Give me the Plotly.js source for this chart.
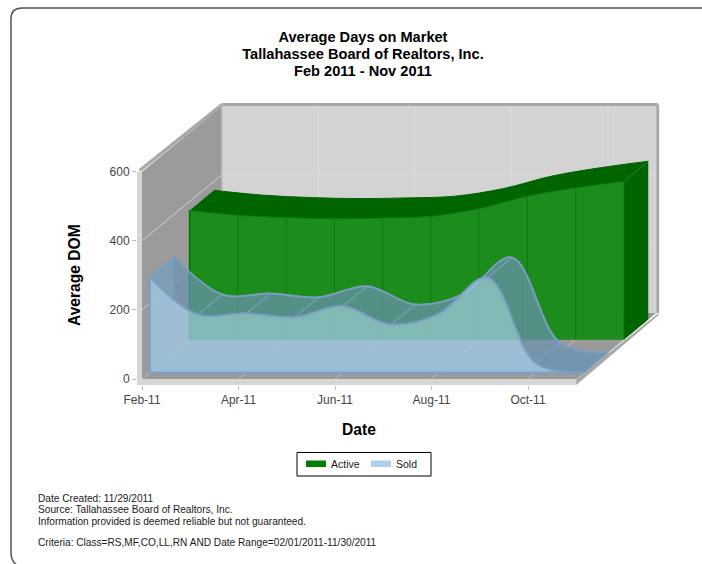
<!DOCTYPE html>
<html>
<head>
<meta charset="utf-8">
<script src="https://cdn.plot.ly/plotly-3.0.1.min.js"></script>
<style>html,body{margin:0;padding:0;background:#fff}#chart{width:702px;height:564px}</style>
</head>
<body>
<div id="chart"></div>
<script>
// ---- data ----
const months = ['Feb-11','Mar-11','Apr-11','May-11','Jun-11','Jul-11','Aug-11','Sep-11','Oct-11','Nov-11'];
const active = [374, 360, 353, 350, 352, 357, 379, 415, 439, 458];
const sold   = [277, 168, 171, 160, 192, 139, 170, 275, 28, 0];
const xTickIdx = [0, 2, 4, 6, 8];
const yTicks = [0, 200, 400, 600];
const seriesNames = ['Active', 'Sold'];

// ---- oblique depth of the 3D box, in axis units ----
const DX = 1.658, DY = 191;
const SOLD_D = [0.095, 0.40], ACTIVE_D = [0.595, 0.90];
const idx = months.map((_, i) => i);
const last = months.length - 1;
const px = (m, d) => m + d * DX, py = (v, d) => v + d * DY;

const traces = [];
function poly(pts, fill) {
  traces.push({type:'scatter', mode:'none', x: pts.map(p => px(p[0], p[2])), y: pts.map(p => py(p[1], p[2])),
    fill:'toself', fillcolor: fill, hoverinfo:'skip', showlegend:false});
}
function seg(a, b, color, w) {
  traces.push({type:'scatter', mode:'lines', x:[px(a[0],a[2]), px(b[0],b[2])], y:[py(a[1],a[2]), py(b[1],b[2])],
    line:{color, width:w}, hoverinfo:'skip', showlegend:false});
}
function series(vals, d, color, w, fill, fillcolor, shape, name) {
  traces.push({type:'scatter', mode:'lines', x: idx.map(i => px(i, d)), y: vals.map(v => py(v, d)), name: name,
    line:{shape: shape || 'spline', smoothing:1, color: color || 'rgba(0,0,0,0)', width: w || 0}, fill: fill || 'none', fillcolor: fillcolor,
    hoverinfo:'skip', showlegend:false});
}
const zeros = months.map(() => 0);

// walls and floor
const TOP = 600, STRIP = 0.104, FLOORS = 17;
poly([[0,0,0],[0,0,1],[0,TOP,1],[0,TOP,0]], '#9b9b9b');
poly([[0,0,1],[last,0,1],[last,TOP,1],[0,TOP,1]], '#d3d3d3');
poly([[0,0,0],[last,0,0],[last,0,1],[0,0,1]], '#9a9a9a');
// wall grid
yTicks.slice(1).forEach(v => seg([0,v,0],[0,v,1],'#cfcfcf',1));
yTicks.slice(1,3).forEach(v => seg([0,v,1],[last,v,1],'#dcdcdc',1));
xTickIdx.forEach(i => { seg([i,0,0],[i,0,1],'#bdbdbd',1); seg([i,0,1],[i,TOP,1],'#dcdcdc',1); });
// frame strips
poly([[-STRIP,-FLOORS,0],[last,-FLOORS,0],[last,0,0],[-STRIP,0,0]], '#d6d6d6');
poly([[-STRIP,-FLOORS,0],[0,-FLOORS,0],[0,TOP,0],[-STRIP,TOP,0]], '#d6d6d6');
poly([[last,-FLOORS,0],[last+0.05,-6,1],[last+0.05,0,1],[last,0,0]], '#a8a8a8');
seg([-STRIP/2,TOP+3,0],[0,TOP+3,1],'#a8a8a8',3);
seg([0,TOP+3,1],[last+0.03,TOP+3,1],'#a8a8a8',3);
seg([last+0.03,TOP+3,1],[last+0.03,0,1],'#a8a8a8',3);
seg([0,TOP+3,1],[0,0,1],'#b4b4b4',1);

// Active: top ribbon, side, front face
const AG = '#006400', AF = '#1c8c1c';
series(active, ACTIVE_D[1], AG, 1);
series(active, ACTIVE_D[0], AG, 1, 'tonexty', AG);
poly([[last,0,ACTIVE_D[0]],[last,0,ACTIVE_D[1]],[last,active[last],ACTIVE_D[1]],[last,active[last],ACTIVE_D[0]]], AG);
series(zeros, ACTIVE_D[0], null, 0, 'none', undefined, 'linear');
series(active, ACTIVE_D[0], '#0d7a0d', 1, 'tonexty', AF, 'spline', seriesNames[0]);
seg([0,0,ACTIVE_D[0]],[0,active[0],ACTIVE_D[0]],'#006e00',1.5);
idx.slice(1).forEach(i => seg([i,0,ACTIVE_D[0]],[i,active[i],ACTIVE_D[0]],'#0f7a0f',1));

// Sold: floor, back, ribbon, sides, front face (all translucent)
const SF = 'rgba(160,198,226,0.72)', SR = 'rgba(100,140,168,0.66)', SL = 'rgba(124,158,194,0.9)';
poly([[0,0,SOLD_D[0]],[last,0,SOLD_D[0]],[last,0,SOLD_D[1]],[0,0,SOLD_D[1]]], 'rgba(135,180,215,0.55)');
series(zeros, SOLD_D[1], null, 0, 'none', undefined, 'linear');
series(sold, SOLD_D[1], 'rgba(124,158,194,0.6)', 1.5, 'tonexty', 'rgba(174,208,234,0.18)');
series(sold, SOLD_D[1], SL, 2);
series(sold, SOLD_D[0], SL, 2, 'tonexty', SR);
poly([[0,0,SOLD_D[0]],[0,0,SOLD_D[1]],[0,sold[0],SOLD_D[1]],[0,sold[0],SOLD_D[0]]], 'rgba(135,175,205,0.45)');
idx.forEach(i => seg([i,sold[i],SOLD_D[0]],[i,sold[i],SOLD_D[1]],'rgba(124,158,194,0.8)',1.5));
series(zeros, SOLD_D[0], null, 0, 'none', undefined, 'linear');
series(sold, SOLD_D[0], SL, 2, 'tonexty', SF, 'spline', seriesNames[1]);
seg([0,0,SOLD_D[0]],[0,sold[0],SOLD_D[0]],SL,2.5);
seg([0,0,SOLD_D[0]],[last,0,SOLD_D[0]],SL,2.5);

// ---- page geometry ----
const W = 702, H = 564, L = 137, R = 665, T = 100, B = 385;
const FONT = '"Liberation Sans", Arial, sans-serif';
const fx = p => (p - L) / (R - L), fy = p => (B - p) / (B - T);
const ann = (text, x, y, size, extra) => Object.assign({text, xref:'paper', yref:'paper', x:fx(x), y:fy(y), showarrow:false,
  xanchor:'center', yanchor:'middle', font:{family:FONT, size, color:'#1a1a1a'}}, extra || {});
const left = {xanchor:'left', align:'left'};
const border = `M ${fx(702)},${fy(8)} L ${fx(22)},${fy(8)} Q ${fx(11)},${fy(8)} ${fx(11)},${fy(19)} L ${fx(11)},${fy(552)} Q ${fx(11)},${fy(561)} ${fx(16)},${fy(564)}`;
const rect = (x0, y0, x1, y1, fill, lineColor) => ({type:'rect', xref:'paper', yref:'paper', x0:fx(x0), x1:fx(x1), y0:fy(y0), y1:fy(y1),
  fillcolor:fill, line:{color:lineColor || fill, width:lineColor ? 1 : 0}, layer:'above'});
const big = '<span style="font-size:14.6px">', end = '</span>';

const layout = {
  width:W, height:H, paper_bgcolor:'#fff', plot_bgcolor:'rgba(0,0,0,0)',
  margin:{l:L, r:W-R, t:T, b:H-B, pad:0},
  font:{family:FONT, size:12, color:'#444'},
  title:{text:`<b>${big}Average Days on Market${end}<br>${big}Tallahassee Board of Realtors, Inc.${end}<br>${big}Feb 2011 - Nov 2011${end}</b>`,
    x:363/W, xanchor:'center', y:1-42/H, yanchor:'top', font:{size:13, color:'#000', family:FONT}},
  xaxis:{range:[(L-142)/48.25,(R-142)/48.25], tickmode:'array', tickvals:xTickIdx, ticktext:xTickIdx.map(i=>months[i]),
    showgrid:false, zeroline:false, showline:false, ticks:'outside', ticklen:4, tickcolor:'#bbb', tickfont:{size:12,color:'#444'}, fixedrange:true},
  yaxis:{range:[(379-B)/0.3457,(379-T)/0.3457], tickmode:'array', tickvals:yTicks,
    showgrid:false, zeroline:false, showline:false, ticks:'outside', ticklen:4, tickcolor:'#bbb', tickfont:{size:12,color:'#444'}, fixedrange:true},
  showlegend:false,
  shapes:[
    {type:'path', xref:'paper', yref:'paper', path:border, line:{color:'#555', width:1.5}, layer:'below'},
    rect(297,452.5,431,476,'#fff','#000'),
    rect(306,460.5,326,467,'#008000'),
    rect(371,460.5,391,467,'#aed0ea')
  ],
  annotations:[
    ann('<b>Average DOM</b>', 74, 275, 15.6, {textangle:-90, font:{family:FONT, size:15.6, color:'#000'}}),
    ann('<b>Date</b>', 359, 429, 15.6, {font:{family:FONT, size:15.6, color:'#000'}}),
    ann(seriesNames[0], 329, 464, 10.5, left),
    ann(seriesNames[1], 394, 464, 10.5, left),
    ann('Date Created: 11/29/2011', 36, 498, 10.15, left),
    ann('Source: Tallahassee Board of Realtors, Inc.', 36, 509, 10.15, left),
    ann('Information provided is deemed reliable but not guaranteed.', 36, 521, 10.15, left),
    ann('Criteria: Class=RS,MF,CO,LL,RN AND Date Range=02/01/2011-11/30/2011', 36, 542, 10.15, left)
  ]
};
Plotly.newPlot('chart', traces, layout, {displayModeBar:false, staticPlot:true});
</script>
</body>
</html>
